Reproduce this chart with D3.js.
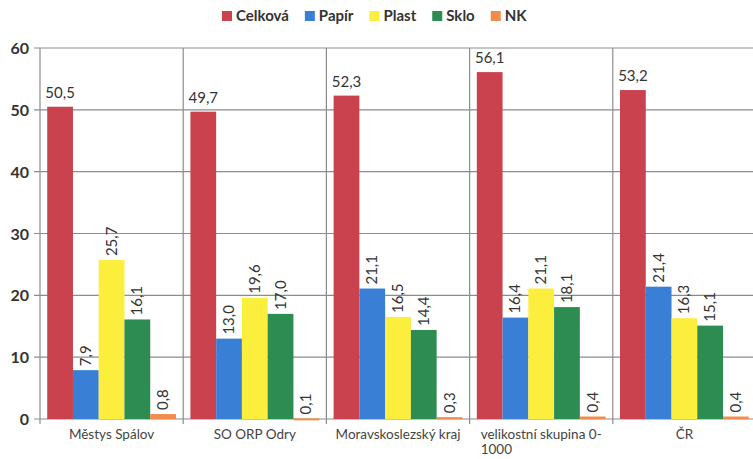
<!DOCTYPE html>
<html>
<head>
<meta charset="utf-8">
<script src="https://cdn.jsdelivr.net/npm/d3@7"></script>
<style>
  body { margin: 0; background: #fff; }
  text { font-family: Lato, "Open Sans", sans-serif; }
</style>
</head>
<body>
<div id="chart"></div>
<script>
const width = 753
const height = 459

const categories = ["Městys Spálov", "SO ORP Odry", "Moravskoslezský kraj", "velikostní skupina 0-1000", "ČR"]
const series = ["Celková", "Papír", "Plast", "Sklo", "NK"]
const colors = ["#c9424e", "#3a7fd6", "#fbee3c", "#2c8c52", "#f28c4e"]
const celkova = [50.5, 49.7, 52.3, 56.1, 53.2]
const papir = [7.9, 13.0, 21.1, 16.4, 21.4]
const plast = [25.7, 19.6, 16.5, 21.1, 16.3]
const sklo = [16.1, 17.0, 14.4, 18.1, 15.1]
const nk = [0.8, 0.1, 0.3, 0.4, 0.4]
const yTicks = [0, 10, 20, 30, 40, 50, 60]

const values = [celkova, papir, plast, sklo, nk]
const rows = []
categories.forEach((c, i) => {
  series.forEach((s, j) => {
    rows.push({ cat: c, ser: s, value: values[j][i], idx: j })
  })
})

const fmt = v => d3.format(".1f")(v).replace(".", ",")

const svg = d3.select("#chart")
              .append("svg")
              .attr("width", width)
              .attr("height", height)

const x0 = d3.scaleBand()
             .domain(categories)
             .range([40, 756])
const x1 = d3.scaleBand()
             .domain(series)
             .range([0, x0.bandwidth()])
             .paddingOuter(0.28)
const y = d3.scaleLinear()
            .domain([0, 60])
            .range([419, 48])
const color = d3.scaleOrdinal(series, colors)

// grid
svg.append("g")
   .selectAll("line")
   .data(yTicks)
   .enter()
   .append("line")
   .attr("x1", 34)
   .attr("x2", 756)
   .attr("y1", d => y(d))
   .attr("y2", d => y(d))
   .attr("stroke", "#8c8c8c")
   .attr("stroke-width", 1.2)

// group dividers
svg.append("g")
   .selectAll("line")
   .data(categories)
   .enter()
   .append("line")
   .attr("x1", d => x0(d))
   .attr("x2", d => x0(d))
   .attr("y1", y(60))
   .attr("y2", y(0) + 5)
   .attr("stroke", "#8c8c8c")
   .attr("stroke-width", 1.2)

// y labels
svg.append("g")
   .selectAll("text")
   .data(yTicks)
   .enter()
   .append("text")
   .attr("x", 29)
   .attr("y", d => y(d) + 6)
   .attr("text-anchor", "end")
   .style("font-size", "16px")
   .style("font-weight", "bold")
   .attr("fill", "#333")
   .text(d => d)

// bars
const bars = svg.append("g")
                .selectAll("g")
                .data(rows)
                .enter()
                .append("g")
                .attr("transform", d => "translate(" + (x0(d.cat) + x1(d.ser)) + ",0)")

bars.append("rect")
    .attr("y", d => y(d.value))
    .attr("width", x1.bandwidth())
    .attr("height", d => Math.max(y(0) - y(d.value), 2))
    .attr("fill", d => color(d.ser))

// value labels
bars.append("text")
    .attr("transform", d => d.idx === 0
      ? "translate(" + (x1.bandwidth() / 2) + "," + (y(d.value) - 9) + ")"
      : "translate(" + (x1.bandwidth() / 2 + 5) + "," + (y(d.value) - 4) + ") rotate(-90)")
    .attr("text-anchor", d => d.idx === 0 ? "middle" : "start")
    .style("font-size", "15px")
    .attr("fill", "#333")
    .text(d => fmt(d.value))

// category labels (long one wrapped onto two lines)
const cats = svg.append("g")
                .selectAll("text")
                .data(categories)
                .enter()
                .append("text")
                .attr("y", 439)
                .style("font-size", "13.5px")
                .attr("fill", "#444")

cats.each(function(d) {
  const t = d3.select(this)
  const cx = x0(d) + x0.bandwidth() / 2
  const parts = d.length > 22 ? [d.slice(0, d.indexOf("0-") + 2), d.slice(d.indexOf("0-") + 2)] : [d]
  const first = t.append("tspan").text(parts[0])
  const w = first.node().getComputedTextLength()
  first.attr("x", cx - w / 2)
  if (parts.length > 1) {
    t.append("tspan").attr("x", cx - w / 2).attr("dy", 15).text(parts[1])
  }
})

// legend
const legend = svg.append("g")
                  .attr("transform", "translate(222, 0)")
let lx = 0
series.forEach((s, i) => {
  legend.append("rect")
        .attr("x", lx)
        .attr("y", 11)
        .attr("width", 10)
        .attr("height", 10)
        .attr("fill", colors[i])
  const t = legend.append("text")
                  .attr("x", lx + 14)
                  .attr("y", 21)
                  .style("font-size", "15px")
                  .style("font-weight", "bold")
                  .attr("fill", "#333")
                  .text(s)
  lx += 14 + t.node().getComputedTextLength() + 16
})
</script>
</body>
</html>
